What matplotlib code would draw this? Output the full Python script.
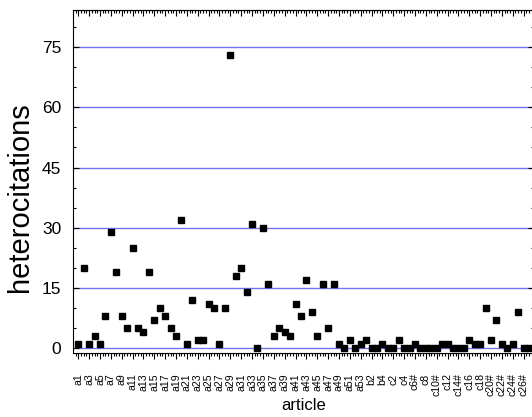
import numpy as np
import matplotlib
matplotlib.use('Agg')
import matplotlib.pyplot as plt
from matplotlib.ticker import FixedLocator, MultipleLocator

plt.rcParams['font.family'] = ['Liberation Sans', 'DejaVu Sans']

# article names
a_articles = ['a%d' % i for i in range(1, 54)]
b_articles = ['b1', 'b2', 'b3', 'b4']
c_articles = ['c1', 'c2', 'c3', 'c4', 'c5', 'c6#', 'c7', 'c8', 'c9', 'c10#',
              'c11', 'c12', 'c13', 'c14#', 'c15', 'c16', 'c17', 'c18', 'c19',
              'c20#', 'c21', 'c22#', 'c23', 'c24#', 'c25', 'c26#', 'c27']
articles = a_articles + b_articles + c_articles

heterocitations = [1, 20, 1, 3, 1, 8, 29, 19, 8, 5,
                   25, 5, 4, 19, 7, 10, 8, 5, 3, 32,
                   1, 12, 2, 2, 11, 10, 1, 10, 73, 18,
                   20, 14, 31, 0, 30, 16, 3, 5, 4, 3,
                   11, 8, 17, 9, 3, 16, 5, 16, 1, 0,
                   2, 0, 1, 2, 0, 0, 1, 0, 0, 2,
                   0, 0, 1, 0, 0, 0, 0, 1, 1, 0,
                   0, 0, 2, 1, 1, 10, 2, 7, 1, 0,
                   1, 9, 0, 0]

y_major = [0, 15, 30, 45, 60, 75]

W, H = 532, 417
fig = plt.figure(figsize=(W / 100.0, H / 100.0), dpi=100)
ax = fig.add_axes([73.3 / W, (H - 353.3) / H, (534 - 73.3) / W, (353.3 - 10) / H])

x = np.arange(len(articles))

# blue horizontal lines at major y ticks
for v in y_major:
    ax.axhline(v, color='#7373ee', lw=1.0, zorder=1)

ax.plot(x, heterocitations, 's', color='black', markersize=4.6, zorder=3)

ax.set_xlim(-0.92, len(articles) - 1 + 0.92)
ax.set_ylim(-1.24, 84.2)

ax.set_xticks(x[::2])
ax.set_xticklabels(articles[::2], rotation=90, fontsize=7.6)
ax.xaxis.set_minor_locator(MultipleLocator(0.5))
ax.tick_params(axis='x', which='both', direction='out', top=False, pad=10)
ax.tick_params(axis='x', which='major', length=4.5, width=0.8)
ax.tick_params(axis='x', which='minor', length=2.5, width=0.8)

# top ticks pointing in
top = ax.secondary_xaxis('top')
top.set_xticks(x[::2])
top.xaxis.set_minor_locator(MultipleLocator(0.5))
top.tick_params(which='both', direction='in', labeltop=False)
top.tick_params(which='major', length=4.5, width=0.8)
top.tick_params(which='minor', length=2.5, width=0.8)

ax.set_yticks(y_major)
ax.yaxis.set_minor_locator(MultipleLocator(5))
ax.tick_params(axis='y', which='both', direction='in', right=True, labelsize=12.5, pad=8.5)
ax.tick_params(axis='y', which='major', length=4.5, width=0.8)
ax.tick_params(axis='y', which='minor', length=2.5, width=0.8)

for s in ax.spines.values():
    s.set_linewidth(0.8)
top.spines['top'].set_linewidth(0.8)

fig.text(20.0 / W, 1 - 197.0 / H, 'heterocitations', rotation=90,
         ha='center', va='center', fontsize=21)
fig.text(304.0 / W, 1 - 406.0 / H, 'article', ha='center', va='center', fontsize=12)

fig.savefig('out.png', dpi=100)
